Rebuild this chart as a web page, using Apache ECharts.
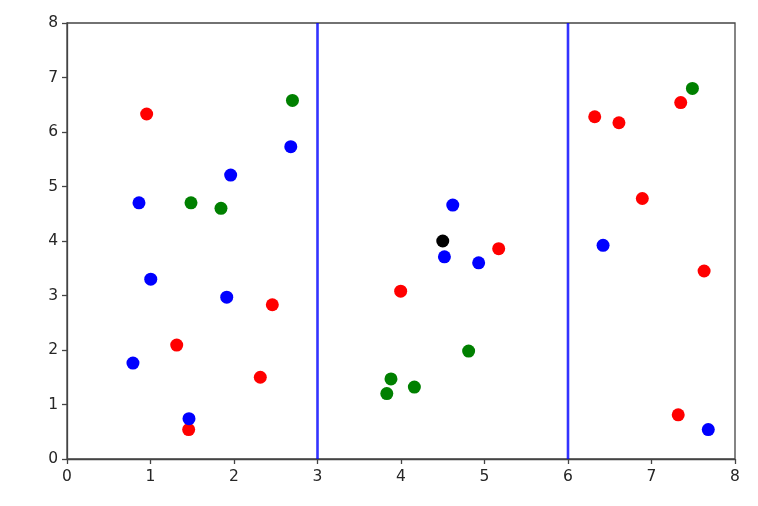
<!DOCTYPE html>
<html>
<head>
<meta charset="utf-8">
<script src="https://cdn.jsdelivr.net/npm/echarts@6/dist/echarts.min.js"></script>
<style>html,body{margin:0;padding:0;background:#fff}#c{width:758px;height:506px}</style>
</head>
<body>
<div id="c"></div>
<script>
const xTicks = [0, 1, 2, 3, 4, 5, 6, 7, 8];
const yTicks = [0, 1, 2, 3, 4, 5, 6, 7, 8];
const redPoints = [
  [0.954, 6.33], [1.314, 2.09], [1.457, 0.54], [2.315, 1.50], [2.459, 2.83],
  [3.996, 3.08], [5.17, 3.86], [6.32, 6.28], [6.61, 6.17], [6.89, 4.78],
  [7.35, 6.54], [7.63, 3.45], [7.32, 0.81]
];
const bluePoints = [
  [0.862, 4.70], [1.003, 3.30], [0.79, 1.76], [1.461, 0.74], [1.96, 5.21],
  [1.913, 2.97], [2.68, 5.73], [4.62, 4.66], [4.52, 3.71], [4.93, 3.60],
  [6.42, 3.92], [7.68, 0.54]
];
const greenPoints = [
  [1.485, 4.70], [1.844, 4.60], [2.70, 6.58], [3.88, 1.47], [3.83, 1.20],
  [4.16, 1.32], [4.81, 1.98], [7.49, 6.80]
];
const blackPoints = [[4.5, 4.0]];
const dividerX = [3, 6];
const yRange = [0, 8];

const chart = echarts.init(document.getElementById('c'), null, {renderer: 'canvas'});
const axisCommon = {
  type: 'value', min: 0, max: 8, interval: 1,
  axisLine: {show: true, lineStyle: {color: '#444', width: 1.3}},
  axisTick: {show: true, inside: false, length: 5, lineStyle: {color: '#444', width: 1.3}},
  axisLabel: {color: '#262626', fontFamily: 'DejaVu Sans', fontSize: 15.5},
  splitLine: {show: false}
};
const dots = (data, color) => ({
  type: 'scatter', data, symbol: 'circle', symbolSize: 13,
  itemStyle: {color, opacity: 1}, z: 3, animation: false
});
const series = [
  dots(redPoints, '#ff0000'),
  dots(bluePoints, '#0000ff'),
  dots(greenPoints, '#008000'),
  dots(blackPoints, '#000000')
];
dividerX.forEach(x => series.push({
  type: 'line', data: yRange.map(y => [x, y]), symbol: 'none',
  lineStyle: {color: '#0000ff', width: 2.6, opacity: 0.8}, z: 2, animation: false
}));
chart.setOption({
  animation: false,
  backgroundColor: '#fff',
  grid: {left: 67, right: 23, top: 23, bottom: 47, show: true, borderColor: '#444', borderWidth: 1.3, backgroundColor: '#fff'},
  xAxis: Object.assign({}, axisCommon, {axisLabel: Object.assign({}, axisCommon.axisLabel, {margin: 10, formatter: v => xTicks.includes(v) ? String(v) : ''})}),
  yAxis: Object.assign({}, axisCommon, {axisLabel: Object.assign({}, axisCommon.axisLabel, {margin: 9, formatter: v => yTicks.includes(v) ? String(v) : ''})}),
  series
});
</script>
</body>
</html>
